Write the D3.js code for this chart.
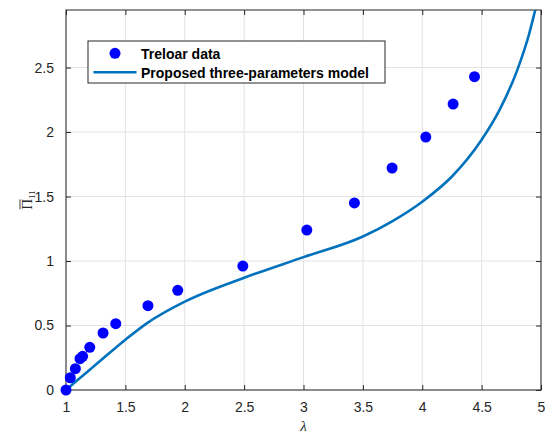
<!DOCTYPE html>
<html>
<head>
<meta charset="utf-8">
<script src="https://cdn.jsdelivr.net/npm/d3@7"></script>
<style>
  html, body { margin: 0; padding: 0; background: #fff; }
  svg { display: block; }
  text { font-family: "Liberation Sans", Arial, Helvetica, sans-serif; }
</style>
</head>
<body>
<svg id="chart" width="545" height="434"></svg>
<script>
// Treloar uniaxial tension data: stretch and nominal stress
const dataStretch = [1.00, 1.036, 1.079, 1.118, 1.14, 1.20, 1.312, 1.419, 1.69, 1.941, 2.489, 3.028, 3.429, 3.746, 4.03, 4.26, 4.44];
const dataStress  = [0.00, 0.095, 0.165, 0.243, 0.261, 0.331, 0.442, 0.514, 0.654, 0.773, 0.961, 1.240, 1.450, 1.721, 1.961, 2.217, 2.429];

// Proposed three-parameters model response
const modelStretch = [1.00, 1.10, 1.23, 1.50, 1.68, 2.00, 2.50, 3.00, 3.50, 3.75, 4.00, 4.25, 4.50, 4.65, 4.80, 4.90, 4.95, 5.00];
const modelStress  = [0.00, 0.08, 0.18, 0.39, 0.517, 0.685, 0.87, 1.03, 1.19, 1.31, 1.46, 1.655, 1.94, 2.17, 2.48, 2.76, 2.94, 3.12];

const xTicks = [1, 1.5, 2, 2.5, 3, 3.5, 4, 4.5, 5];
const yTicks = [0, 0.5, 1, 1.5, 2, 2.5];

const legendLabels = ["Treloar data", "Proposed three-parameters model"];

const plot = { left: 66, top: 10, right: 541, bottom: 390 };
const axisColor = "#262626";
const gridColor = "#e3e3e3";
const markerColor = "#0000ff";
const lineColor = "#0072bd";

const svg = d3.select("#chart");

const x = d3.scaleLinear().domain([1, 5]).range([plot.left, plot.right]);
const y = d3.scaleLinear().domain([0, 2.946]).range([plot.bottom, plot.top]);

svg.append("defs").append("clipPath").attr("id", "plotClip")
  .append("rect")
  .attr("x", plot.left).attr("y", plot.top)
  .attr("width", plot.right - plot.left).attr("height", plot.bottom - plot.top);

// grid
const grid = svg.append("g");
grid.selectAll(".gx").data(xTicks).join("line")
  .attr("x1", d => x(d)).attr("x2", d => x(d))
  .attr("y1", plot.top).attr("y2", plot.bottom)
  .attr("stroke", gridColor).attr("stroke-width", 1);
grid.selectAll(".gy").data(yTicks).join("line")
  .attr("x1", plot.left).attr("x2", plot.right)
  .attr("y1", d => y(d)).attr("y2", d => y(d))
  .attr("stroke", gridColor).attr("stroke-width", 1);

// axes (ticks drawn inward, on all four sides)
const tickLen = 5;
const fontSize = 14;
const axB = svg.append("g").attr("transform", `translate(0,${plot.bottom})`)
  .call(d3.axisBottom(x).tickValues(xTicks).tickSize(-tickLen).tickPadding(12).tickFormat(d3.format("")));
const axT = svg.append("g").attr("transform", `translate(0,${plot.top})`)
  .call(d3.axisTop(x).tickValues(xTicks).tickSize(-tickLen).tickFormat(""));
const axL = svg.append("g").attr("transform", `translate(${plot.left},0)`)
  .call(d3.axisLeft(y).tickValues(yTicks).tickSize(-tickLen).tickPadding(12).tickFormat(d3.format("")));
const axR = svg.append("g").attr("transform", `translate(${plot.right},0)`)
  .call(d3.axisRight(y).tickValues(yTicks).tickSize(-tickLen).tickFormat(""));

[axB, axT, axL, axR].forEach(g => {
  g.select(".domain").remove();
  g.selectAll("line").attr("stroke", axisColor).attr("stroke-width", 1);
  g.selectAll("text").attr("fill", axisColor)
    .style("font-family", '"Liberation Sans", Arial, sans-serif')
    .style("font-size", fontSize + "px");
});

// box
svg.append("rect")
  .attr("x", plot.left).attr("y", plot.top)
  .attr("width", plot.right - plot.left).attr("height", plot.bottom - plot.top)
  .attr("fill", "none").attr("stroke", axisColor).attr("stroke-width", 1);

// model curve
const line = d3.line().x(d => x(d[0])).y(d => y(d[1])).curve(d3.curveMonotoneX);
svg.append("path")
  .datum(d3.zip(modelStretch, modelStress))
  .attr("clip-path", "url(#plotClip)")
  .attr("d", line)
  .attr("fill", "none").attr("stroke", lineColor).attr("stroke-width", 2.6);

// data markers
svg.append("g").selectAll("circle").data(d3.zip(dataStretch, dataStress)).join("circle")
  .attr("cx", d => x(d[0])).attr("cy", d => y(d[1]))
  .attr("r", 5.5).attr("fill", markerColor);

// x label
svg.append("text")
  .attr("x", (plot.left + plot.right) / 2).attr("y", 431)
  .attr("text-anchor", "middle")
  .style("font-family", '"Liberation Serif", "DejaVu Serif", serif')
  .style("font-style", "italic").style("font-size", "15px")
  .attr("fill", axisColor)
  .text("λ");

// y label: Π with an overbar and subscript 11, rotated
const ylg = svg.append("g")
  .attr("transform", `translate(32,${(plot.top + plot.bottom) / 2}) rotate(-90)`);
const yl = ylg.append("text")
  .attr("text-anchor", "middle")
  .style("font-family", '"Liberation Serif", "DejaVu Serif", serif')
  .style("font-size", "15px")
  .attr("fill", axisColor);
yl.append("tspan").text("Π");
yl.append("tspan").attr("dy", 2.5).style("font-size", "9px").text("11");
const pi0 = yl.node().getStartPositionOfChar(0).x;
const pi1 = yl.node().getEndPositionOfChar(0).x;
ylg.append("line")
  .attr("x1", pi0 + 0.5).attr("x2", pi1 - 0.5)
  .attr("y1", -12).attr("y2", -12)
  .attr("stroke", axisColor).attr("stroke-width", 0.9);

// legend
const lg = svg.append("g");
lg.append("rect")
  .attr("x", 88).attr("y", 41).attr("width", 297).attr("height", 42)
  .attr("fill", "#fff").attr("stroke", axisColor).attr("stroke-width", 1);
lg.append("circle").attr("cx", 115).attr("cy", 53.3).attr("r", 5.5).attr("fill", markerColor);
lg.append("line").attr("x1", 93.5).attr("x2", 136.5).attr("y1", 72.3).attr("y2", 72.3)
  .attr("stroke", lineColor).attr("stroke-width", 2.6);
lg.selectAll("text.lbl").data(legendLabels).join("text")
  .attr("x", 141).attr("y", (d, i) => 58.5 + i * 19)
  .style("font-family", '"Liberation Sans", Arial, sans-serif')
  .style("font-weight", "bold").style("font-size", "14px")
  .attr("fill", "#000")
  .text(d => d);
</script>
</body>
</html>
